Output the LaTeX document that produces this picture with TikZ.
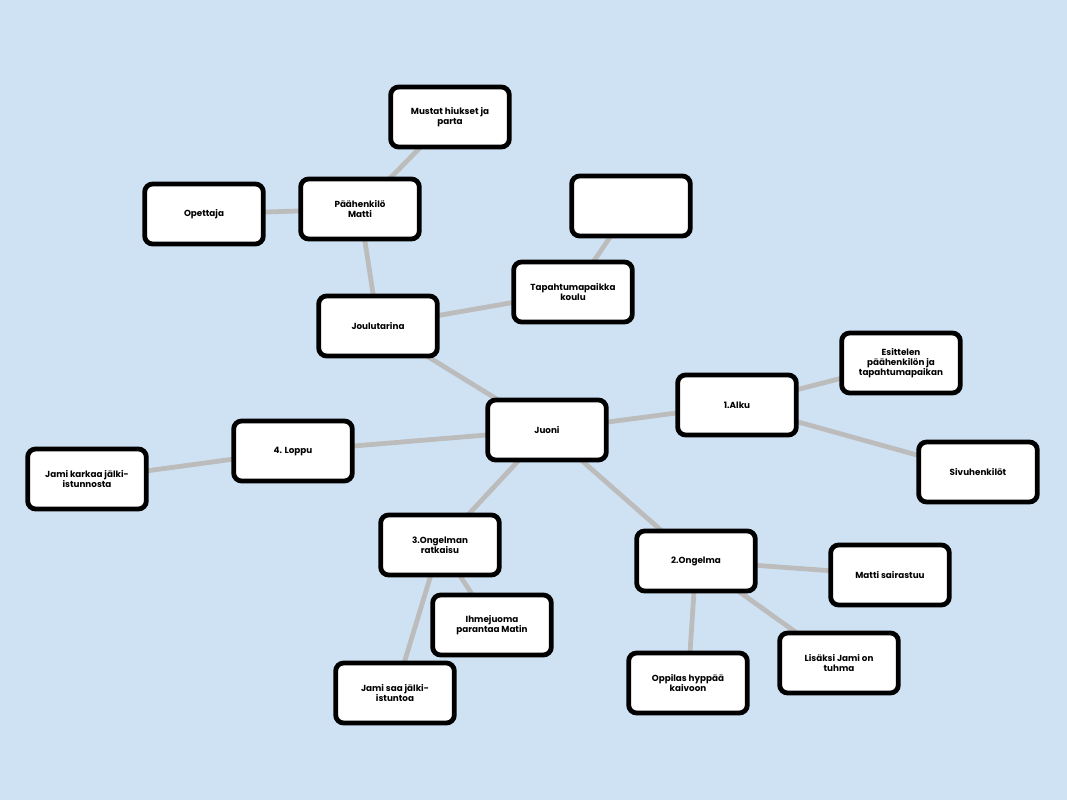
\documentclass[tikz,border=0pt]{standalone}
\usepackage{fontspec}
\setmainfont{Poppins}
\definecolor{bgblue}{HTML}{CFE2F3}
\definecolor{linkgray}{HTML}{BCBCBC}
\pgfdeclarelayer{bg}
\pgfdeclarelayer{links}
\pgfsetlayers{bg,links,main}
\begin{document}
\begin{tikzpicture}[x=0.75pt,y=-0.75pt,
        box/.style={draw=black,fill=white,line width=3.6pt,rounded corners=6pt,
            minimum width=89pt,minimum height=45pt,align=center,inner sep=2pt,
            font=\fontsize{6.6}{7.4}\selectfont\bfseries},
        link/.style={draw=linkgray,line width=3.6pt}]
        \begin{pgfonlayer}{bg}
        \fill[bgblue] (0,0) rectangle (1067,800);
        \end{pgfonlayer}
        \node[box] (juoni) at (547,430) {Juoni};
        \node[box] (joulu) at (378,326) {Joulutarina};
        \node[box] (matti) at (360,209) {Päähenkilö\\Matti};
        \node[box] (hiukset) at (450,117) {Mustat hiukset ja\\parta};
        \node[box] (opettaja) at (204,214) {Opettaja};
        \node[box] (paikka) at (573,292) {Tapahtumapaikka\\koulu};
        \node[box] (tyhja) at (631,206) {};
        \node[box] (alku) at (737,405) {1.Alku};
        \node[box] (esittelen) at (901,363) {Esittelen\\päähenkilön ja\\tapahtumapaikan};
        \node[box] (sivu) at (978,472) {Sivuhenkilöt};
        \node[box] (loppu) at (293,451) {4. Loppu};
        \node[box] (karkaa) at (87,479) {Jami karkaa jälki-\\istunnosta};
        \node[box] (ratkaisu) at (440,545) {3.Ongelman\\ratkaisu};
        \node[box] (ihmejuoma) at (492,625) {Ihmejuoma\\parantaa Matin};
        \node[box] (istunto) at (395,693) {Jami saa jälki-\\istuntoa};
        \node[box] (ongelma) at (696,561) {2.Ongelma};
        \node[box] (sairastuu) at (890,575) {Matti sairastuu};
        \node[box] (tuhma) at (839,663) {Lisäksi Jami on\\tuhma};
        \node[box] (kaivo) at (688,683) {Oppilas hyppää\\kaivoon};
        % yhteydet solmujen taakse
        \begin{pgfonlayer}{links}
        \foreach \a/\b in {juoni/joulu, joulu/matti, matti/hiukset, matti/opettaja,
            joulu/paikka, paikka/tyhja, juoni/alku, alku/esittelen, alku/sivu,
            juoni/loppu, loppu/karkaa, juoni/ratkaisu, ratkaisu/ihmejuoma,
            ratkaisu/istunto, juoni/ongelma, ongelma/sairastuu, ongelma/tuhma,
            ongelma/kaivo}
            \draw[link] (\a.center) -- (\b.center);
        \end{pgfonlayer}
\end{tikzpicture}
\end{document}
